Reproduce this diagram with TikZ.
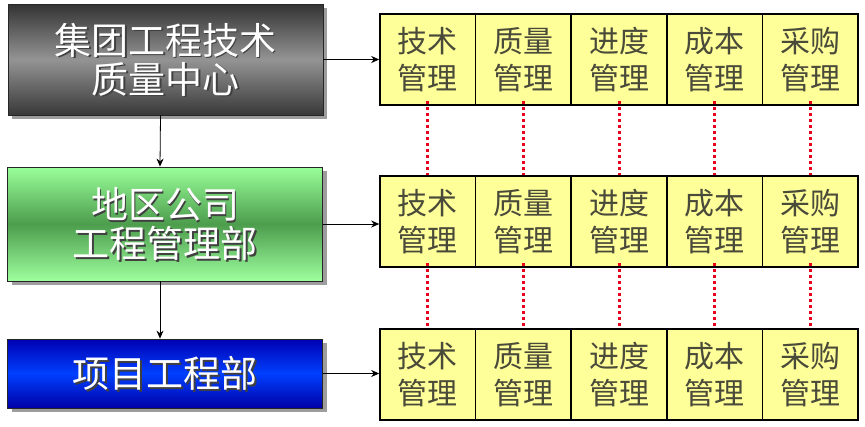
\documentclass[tikz,border=0pt]{standalone}
\usepackage{fontspec}
\usepackage{xcolor}
\newfontfamily\cjk{Noto Sans CJK SC}
\usetikzlibrary{shadows,arrows.meta}

\definecolor{cellyellow}{HTML}{FFFF99}
\definecolor{celltext}{HTML}{4A4A3A}
\definecolor{dotred}{HTML}{E8001C}

\tikzset{
  unitbox/.style={minimum width=315pt, draw=black!85, line width=0.8pt,
    drop shadow={shadow xshift=4pt, shadow yshift=-4pt, fill=black!55, opacity=.7}},
  greybox/.style={top color=black!80, bottom color=black!78, middle color=black!42},
  greenbox/.style={top color=green!40!white, bottom color=green!38!white, middle color=green!45!black!70},
  bluebox/.style={top color=blue!70!black, bottom color=blue!65!black, middle color=blue!75!cyan},
  unittext/.style={font=\cjk\fontsize{37}{39}\selectfont, align=center, text=white},
  cell/.style={draw=black, line width=1.6pt, fill=cellyellow, minimum width=95.6pt,
    minimum height=91pt, inner sep=0pt, font=\cjk\fontsize{30}{37}\selectfont,
    text=celltext, align=center},
  link/.style={draw=dotred, line width=3pt, dash pattern=on 3pt off 3pt},
  flow/.style={-{Stealth[length=8pt,width=7pt]}, line width=0.8pt}
}

\begin{document}
\begin{tikzpicture}[x=1pt,y=-1pt]
\useasboundingbox (0,0) rectangle (865,426);

% left column
\node[unitbox, greybox, minimum height=111pt] (b1) at (165.5,59.5) {};
\node[unitbox, greenbox, minimum height=114pt] (b2) at (165,224) {};
\node[unitbox, bluebox, minimum height=69pt] (b3) at (165,373.5) {};
\foreach \n/\t in {1/{集团工程技术\\质量中心}, 2/{地区公司\\工程管理部}, 3/{项目工程部}} {
  \node[unittext, text=black!75] at ([shift={(1.5,1.5)}]b\n.center) {\t};
  \node[unittext] (t\n) at (b\n.center) {\t};
}

% management cells
\foreach \r/\y in {1/59.5, 2/221.5, 3/374.5}
  \foreach \t [count=\i] in {技术,质量,进度,成本,采购}
    \node[cell] (c\r\i) at ({380+95.6*(\i-0.5)},\y) {\t\\管理};

\foreach \i in {1,...,5} {
  \draw[link] ([yshift=5pt]c1\i.south) -- (c2\i.north);
  \draw[link] ([yshift=5pt]c2\i.south) -- (c3\i.north);
}

% arrows
\draw[flow] ([xshift=-5pt]b1.south) -- ([xshift=-5pt]b2.north);
\draw[flow] ([xshift=-5pt]b2.south) -- ([xshift=-5pt]b3.north);
\foreach \n in {1,2,3}
  \draw[flow] (b\n.east) -- (b\n.east -| c\n1.west);
\end{tikzpicture}
\end{document}
